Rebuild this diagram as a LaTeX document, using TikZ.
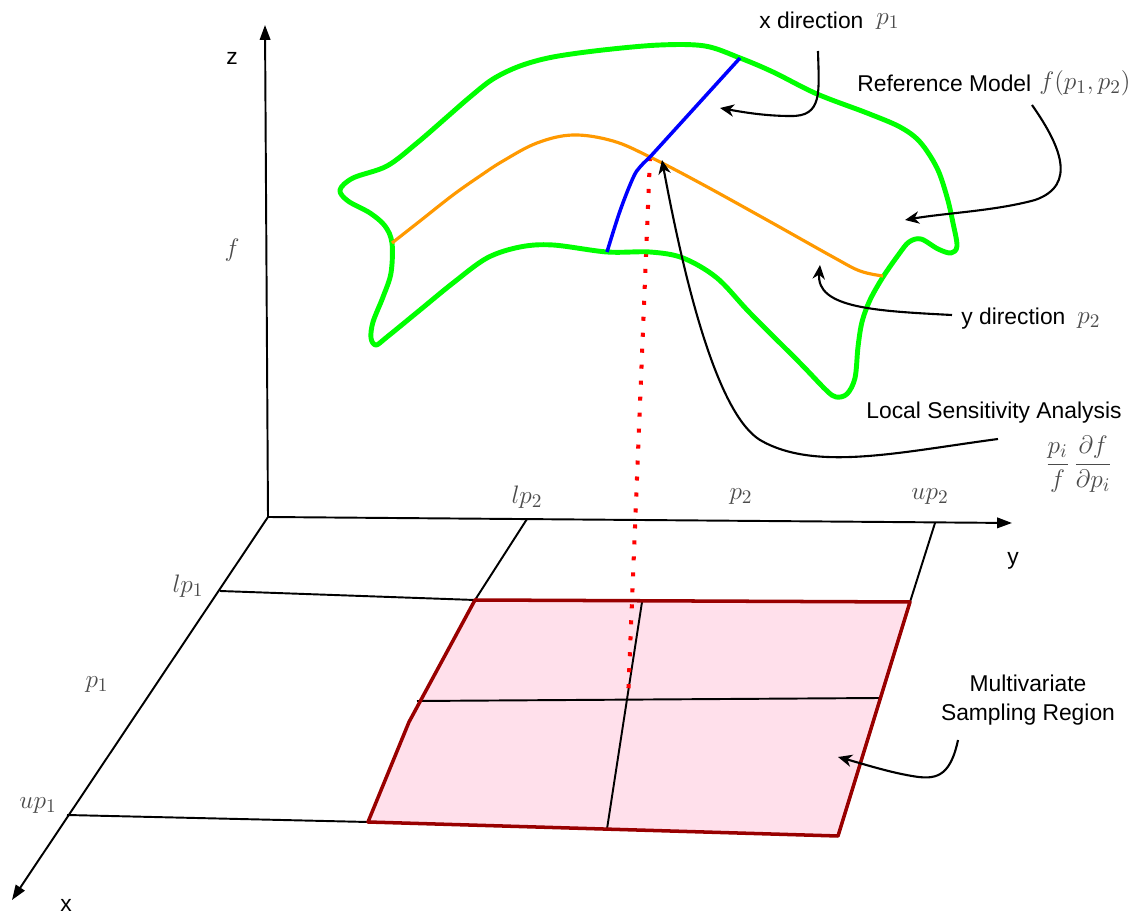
\documentclass[tikz,border=0pt]{standalone}
\usepackage{fontspec}
\setmainfont{Liberation Sans}
\usetikzlibrary{arrows.meta}
\definecolor{sgreen}{RGB}{0,255,0}
\definecolor{sorange}{RGB}{255,153,0}
\definecolor{sblue}{RGB}{0,0,255}
\definecolor{spink}{RGB}{255,224,235}
\definecolor{sdark}{RGB}{153,0,0}
\definecolor{mgray}{RGB}{75,75,75}
\begin{document}
\begin{tikzpicture}[x=0.02cm,y=-0.02cm,
  axis/.style={line width=1.1pt,-{Triangle[length=8.5pt,width=6pt]}},
  gridline/.style={line width=1.1pt},
  annot/.style={line width=1.2pt,-{Stealth[length=8pt,width=7pt,inset=2.5pt]}},
  lbl/.style={font=\fontsize{13}{15.5}\selectfont,inner sep=0pt},
  mlbl/.style={text=mgray,font=\fontsize{15.5}{18}\selectfont,inner sep=0pt},
  surf/.style={line width=2.8pt,sgreen,line join=round},
]
\useasboundingbox (0,0) rectangle (1137,918);

% ---- base coordinates
\coordinate (O) at (268,517);
\coordinate (ztip) at (265,25);
\coordinate (ytip) at (1012,523);
\coordinate (xtip) at (12,900);
\coordinate (lp1a) at (220,591);
\coordinate (up1a) at (67,815);
\coordinate (lp2a) at (527,519);
\coordinate (up2a) at (935,523);
\coordinate (TL) at (475,600);
\coordinate (TR) at (910,602);
\coordinate (BR) at (838,836);
\coordinate (BL) at (368,822);
\coordinate (KL) at (409,722);
\coordinate (ML) at (417,701);
\coordinate (MR) at (880,698);
\coordinate (VT) at (642,602);
\coordinate (VB) at (607,829);
\coordinate (P) at (650,157);
\coordinate (Pb) at (628,700);

% ---- sampling region fill
\fill[spink] (TL) -- (TR) -- (BR) -- (BL) -- (KL) -- cycle;

% ---- axes
\draw[axis] (O) -- (ztip);
\draw[axis] (O) -- (ytip);
\draw[axis] (O) -- (xtip);

% ---- grid lines
\draw[gridline] (lp1a) -- (TL);
\draw[gridline] (up1a) -- (BL);
\draw[gridline] (lp2a) -- (TL);
\draw[gridline] (up2a) -- (TR);
\draw[gridline] (ML) -- (MR);
\draw[gridline] (VT) -- (VB);

% ---- sampling region outline
\draw[sdark,line width=2pt,line join=round] (TL) -- (TR) -- (BR) -- (BL) -- (KL) -- cycle;

% ---- red dotted projection
\draw[red,line width=2.3pt,dash pattern=on 2.3pt off 6.8pt] (P) -- (Pb);

% ---- green surface outline
\draw[surf] plot[smooth cycle,tension=0.55] coordinates {
 (340,190) (353,178) (387,166) (417,143) (447,117) (470,97) (493,79) (520,66) (553,57)
 (603,50) (660,45) (705,46) (740,58) (773,72) (817,94) (867,113) (900,127) (920,142)
 (937,168) (947,197) (953,223) (957,246) (951,253) (938,249) (921,239) (909,242)
 (899,254) (883,277) (870,300) (862,322) (858,347) (855,378) (847,394) (836,397)
 (826,390) (800,363) (750,313) (717,278) (683,258) (650,252) (607,252) (553,245)
 (520,247) (487,258) (453,283) (420,310) (387,337) (376,345) (371,338) (373,322)
 (383,297) (391,273) (392,243) (385,226) (370,213) (348,201)};

% ---- orange curve (y direction)
\draw[sorange,line width=1.8pt] plot[smooth,tension=0.6] coordinates {
 (392,243) (420,221) (453,195) (480,176) (503,161) (537,143) (573,135) (613,141)
 (650,157) (700,183) (767,220) (833,257) (860,271) (883,276)};

% ---- blue curve (x direction)
\draw[sblue,line width=2pt,line join=round] plot[smooth,tension=0.6] coordinates {
 (607,252) (620,211) (633,178) (640,167) (650,157)} -- (740,58);

% ---- labels
\node[lbl] (zl) at (232,58) {z};
\node[lbl] (yl) at (1013,561) {y};
\node[lbl] (xl) at (66,905) {x};
\node[mlbl] (fl) at (232,250) {$f$};
\node[mlbl] (lp2l) at (527,497) {$lp_2$};
\node[mlbl] (p2l) at (741,497) {$p_2$};
\node[mlbl] (up2l) at (930,497) {$up_2$};
\node[mlbl] (lp1l) at (188,586) {$lp_1$};
\node[mlbl] (p1l) at (97,685) {$p_1$};
\node[mlbl] (up1l) at (38,806) {$up_1$};

\node[lbl,anchor=west] (xdir) at (759,20) {x direction};
\node[mlbl,anchor=west] (xdirm) at (876,22) {$p_1$};
\node[lbl,anchor=west] (refm) at (857,83) {Reference Model};
\node[mlbl,anchor=west] (refmm) at (1039,83) {$f(p_1,p_2)$};
\node[lbl,anchor=west] (ydir) at (961,319) {y direction};
\node[mlbl,anchor=west] (ydirm) at (1077,321) {$p_2$};
\node[lbl] (lsa) at (994,413) {Local Sensitivity Analysis};
\node[mlbl] (frac) at (1079,464) {$\displaystyle\frac{p_i}{f}\,\frac{\partial f}{\partial p_i}$};
\node[lbl,align=center] (msr) at (1028,700) {Multivariate\\[1pt]Sampling Region};

% ---- annotation connectors
\coordinate (xs) at (818,51);
\coordinate (xe) at (720,108);
\coordinate (rs) at (1032,105);
\coordinate (re) at (905,220);
\coordinate (ys) at (952,315);
\coordinate (ye) at (820,265);
\coordinate (ls) at (998,439);
\coordinate (le) at (662,160);
\coordinate (ms) at (958,740);
\coordinate (me) at (838,757);

\draw[annot] (xs) .. controls (819,92) and (823,117) .. (790,116) .. controls (765,116) and (742,112) .. (xe);
\draw[annot] (rs) .. controls (1060,145) and (1078,185) .. (1035,200) .. controls (995,211) and (945,213) .. (re);
\draw[annot] (ys) .. controls (875,311) and (816,308) .. (ye);
\draw[annot] (ls) .. controls (900,452) and (815,472) .. (760,440) .. controls (720,415) and (688,300) .. (le);
\draw[annot] (ms) .. controls (950,778) and (935,780) .. (912,776) .. controls (888,772) and (860,763) .. (me);

\end{tikzpicture}
\end{document}
